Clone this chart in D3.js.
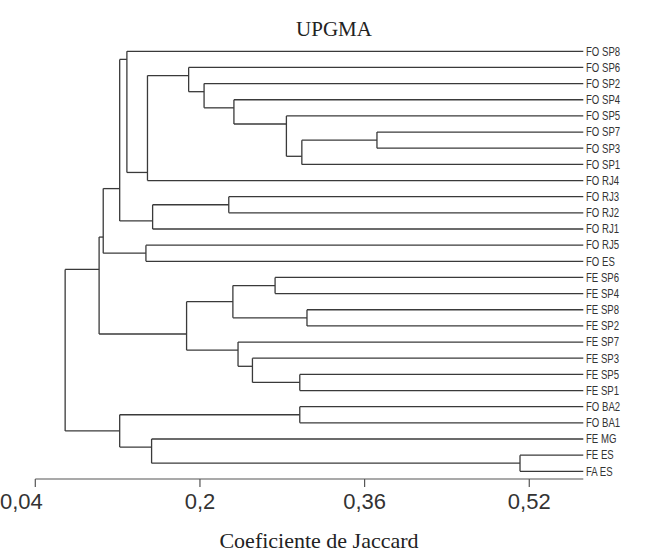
<!DOCTYPE html>
<html><head><meta charset="utf-8">
<script src="https://cdn.jsdelivr.net/npm/d3@7"></script>
<style>body{margin:0;background:#fff}</style>
</head><body>
<svg id="c" width="645" height="558"></svg>
<script>
// Leaves in display order (top to bottom)
const leaves = ["FO SP8","FO SP6","FO SP2","FO SP4","FO SP5","FO SP7","FO SP3","FO SP1","FO RJ4","FO RJ3","FO RJ2","FO RJ1","FO RJ5","FO ES","FE SP6","FE SP4","FE SP8","FE SP2","FE SP7","FE SP3","FE SP5","FE SP1","FO BA2","FO BA1","FE MG","FE ES","FA ES"];
// Merge steps: [upper child id, lower child id]; new ids start after leaves
const mergeChildren = [[5,6],[27,7],[4,28],[3,29],[2,30],[1,31],[32,8],[0,33],[9,10],[35,11],[34,36],[12,13],[37,38],[14,15],[16,17],[40,41],[20,21],[19,43],[18,44],[42,45],[39,46],[22,23],[25,26],[24,49],[48,50],[47,51]];
// Jaccard coefficient at which each merge happens
const mergeHeights = [0.372,0.299,0.284,0.233,0.204,0.189,0.149,0.129,0.228,0.154,0.122,0.1475,0.106,0.273,0.304,0.232,0.297,0.251,0.237,0.187,0.102,0.297,0.511,0.153,0.122,0.069];
const tickValues = [0.04,0.2,0.36,0.52];
const tickLabels = ["0,04","0,2","0,36","0,52"];
const domainMax = 0.5725;

const svg = d3.select("#c");
const x = d3.scaleLinear().domain([0.04, domainMax]).range([35.3, 583.3]);
const y = d3.scaleLinear().domain([0, leaves.length-1]).range([51.3, 471.3]);

// Build nodes
const nodes = leaves.map((l,i)=>({id:i, leaf:true, first:i, last:i, pos:i, h:null}));
mergeChildren.forEach((c,k)=>{
  const a = nodes[c[0]], b = nodes[c[1]];
  const n = {id:leaves.length+k, leaf:false, children:[a,b], h:mergeHeights[k],
    first:Math.min(a.first,b.first), last:Math.max(a.last,b.last)};
  // connector at split between upper child's last leaf and lower child's first leaf
  n.pos = (a.last + b.first)/2;
  a.parent = n; b.parent = n;
  nodes.push(n);
});

const stroke = "#3a3a3a", sw = 1.3;
const g = svg.append("g").attr("fill","none").attr("stroke",stroke).attr("stroke-width",sw);
nodes.forEach(n=>{
  const xr = n.leaf ? x(domainMax) : x(n.h);
  if(n.parent){
    g.append("line").attr("x1",x(n.parent.h)).attr("x2",xr).attr("y1",y(n.pos)).attr("y2",y(n.pos));
  }
  if(!n.leaf){
    g.append("line").attr("x1",x(n.h)).attr("x2",x(n.h))
      .attr("y1",y(n.children[0].pos)).attr("y2",y(n.children[1].pos));
  }
});

// leaf labels
leaves.forEach((l,i)=>{
  svg.append("text").attr("transform",`translate(586,${y(i)}) scale(0.8,1)`)
    .attr("dy","0.36em").attr("font-family","'Liberation Sans',Arial,sans-serif")
    .attr("font-size",12).attr("fill","#333").text(l);
});

// axis
const axY = 479;
const ax = svg.append("g").attr("stroke","#555").attr("stroke-width",1.2);
ax.append("line").attr("x1",x(0.04)).attr("x2",x(domainMax)).attr("y1",axY).attr("y2",axY);
tickValues.forEach((v,i)=>{
  ax.append("line").attr("x1",x(v)).attr("x2",x(v)).attr("y1",axY).attr("y2",axY+8);
  svg.append("text").attr("x", i===0 ? 0 : x(v)).attr("y",509)
    .attr("text-anchor", i===0 ? "start" : "middle")
    .attr("font-family","'Liberation Sans',Arial,sans-serif").attr("font-size",22)
    .attr("fill","#333").text(tickLabels[i]);
});

svg.append("text").attr("x",334).attr("y",36).attr("text-anchor","middle")
  .attr("font-family","'Liberation Serif','Times New Roman',serif").attr("font-size",21)
  .attr("fill","#222").text("UPGMA");
svg.append("text").attr("x",319).attr("y",548).attr("text-anchor","middle")
  .attr("font-family","'Liberation Serif','Times New Roman',serif").attr("font-size",22)
  .attr("fill","#222").text("Coeficiente de Jaccard");
</script>
</body></html>
